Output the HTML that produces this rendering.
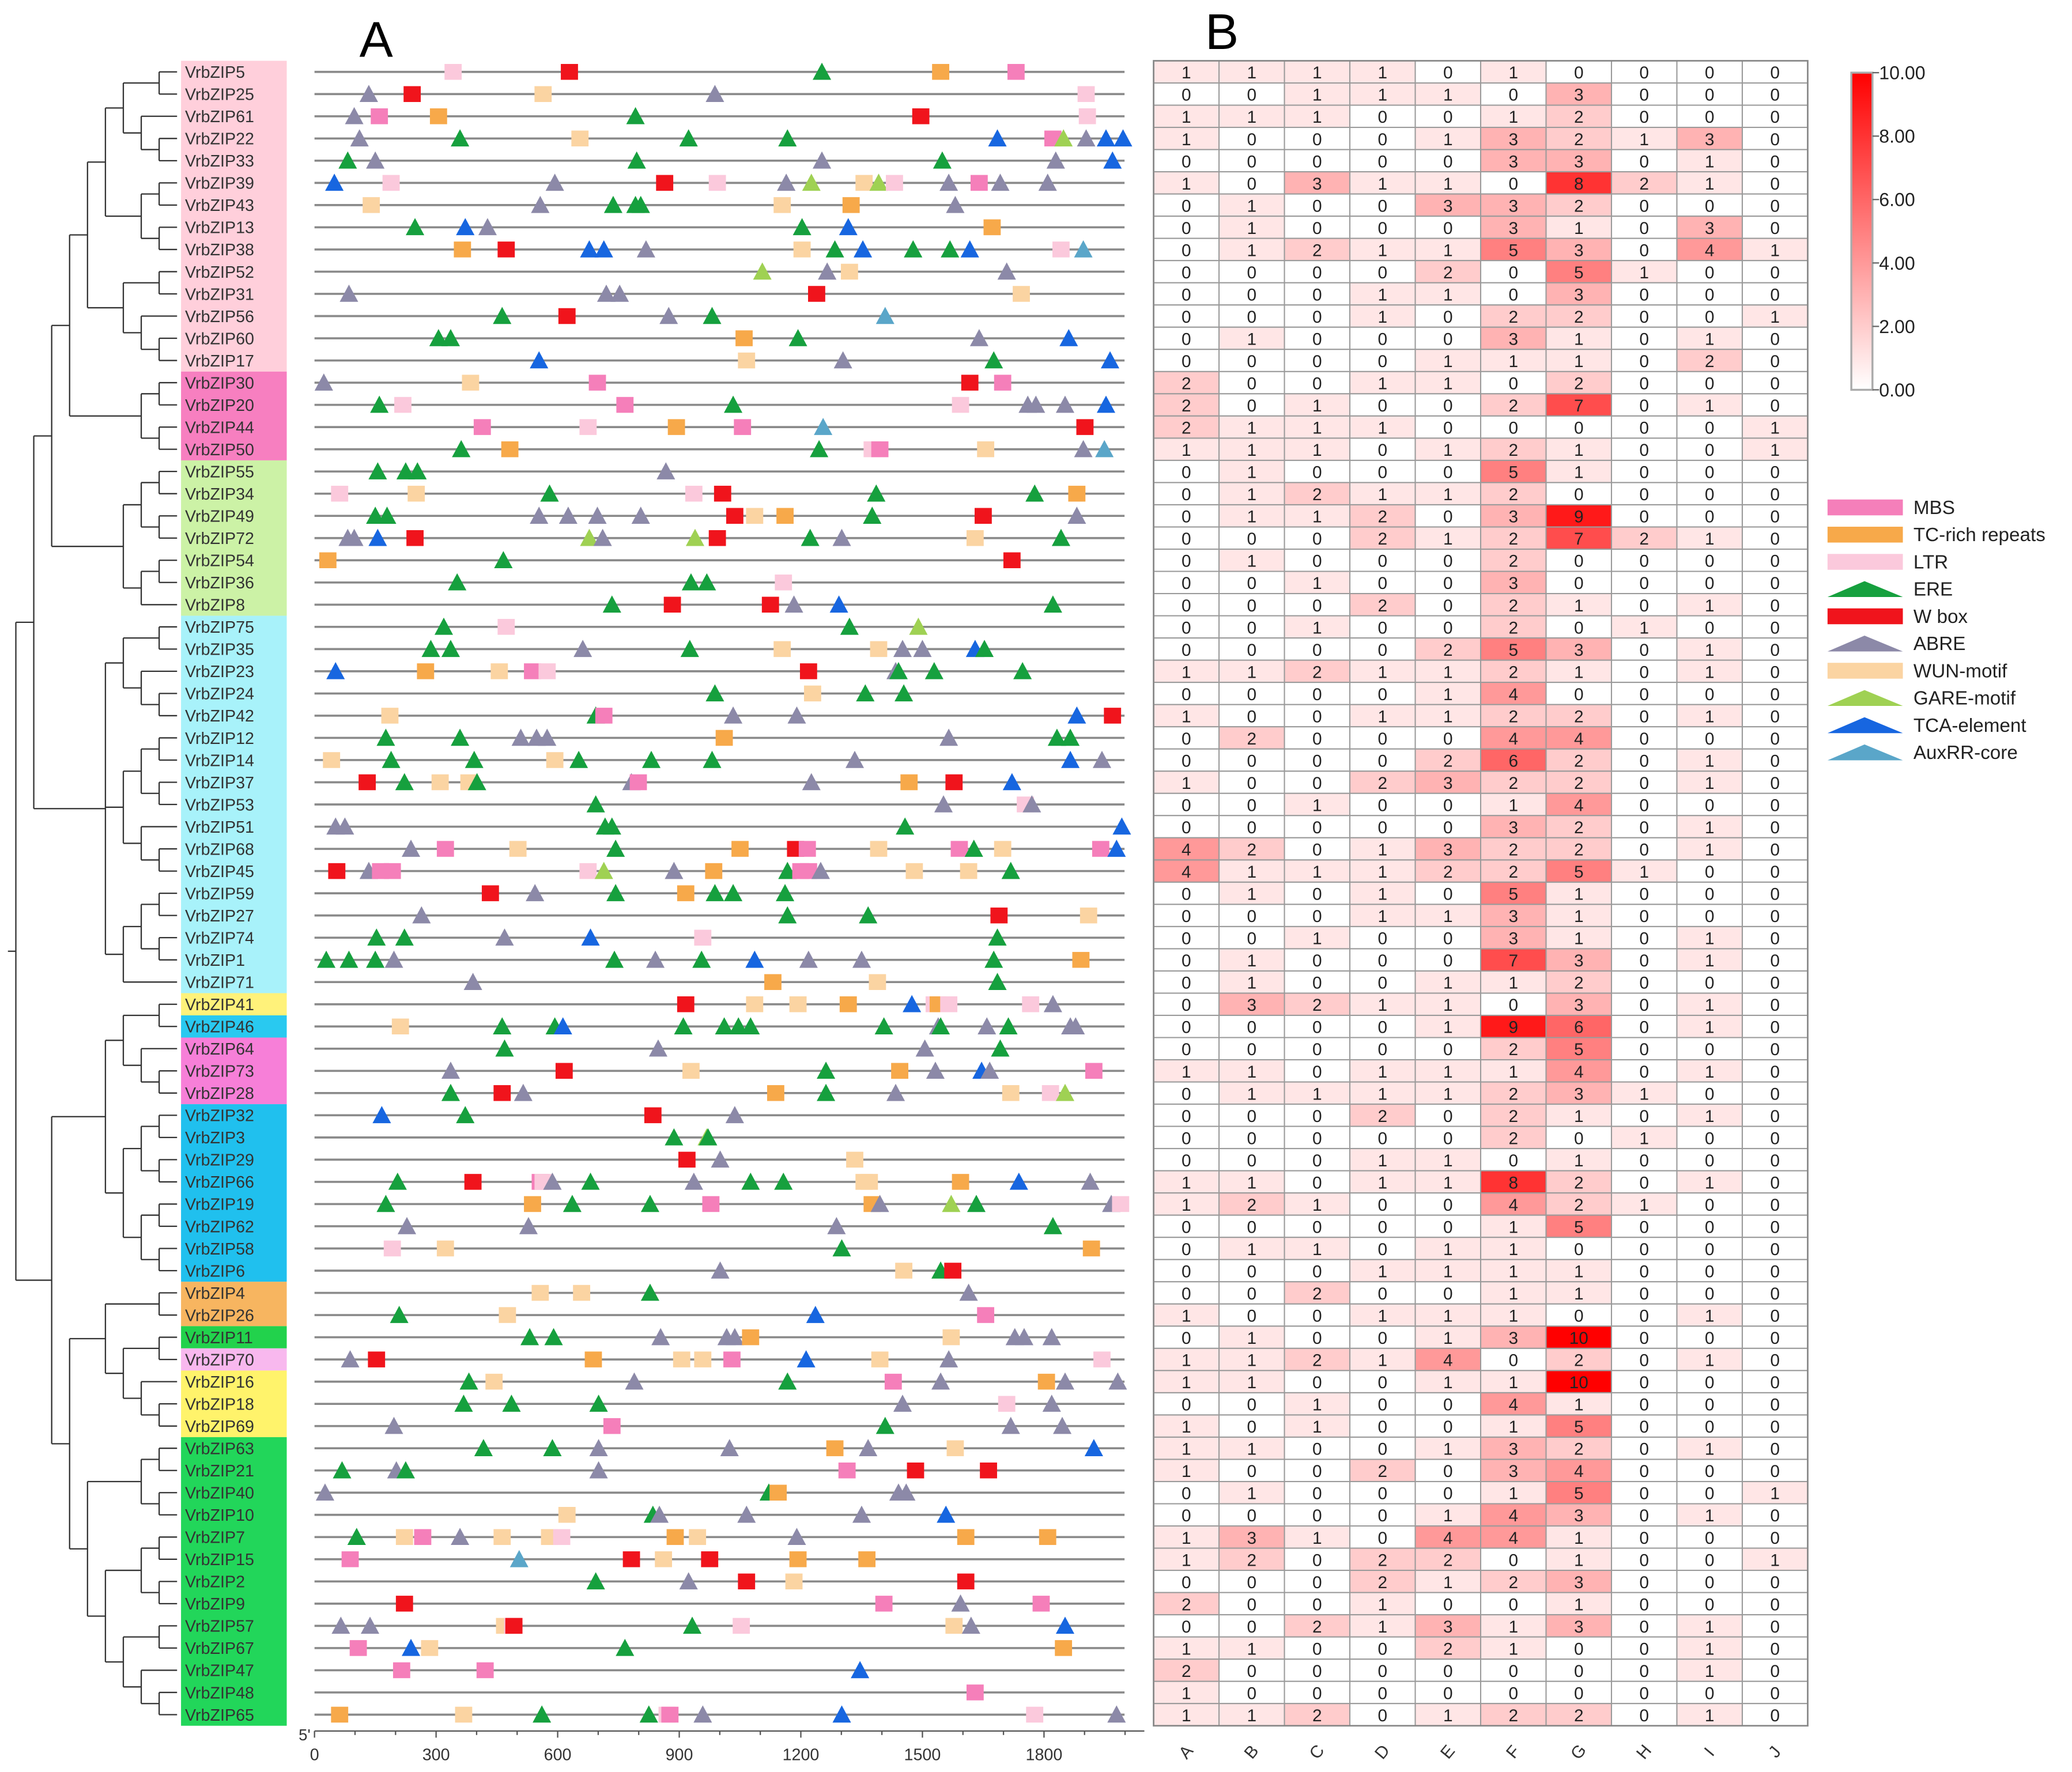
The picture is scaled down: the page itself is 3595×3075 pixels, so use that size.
<!DOCTYPE html>
<html><head><meta charset="utf-8"><style>
html,body{margin:0;padding:0;background:#fff;}
svg{display:block;}
text{font-family:"Liberation Sans",Arial,sans-serif;}
</style></head><body>
<svg id="fig" xmlns="http://www.w3.org/2000/svg" width="3595" height="3075" viewBox="0 0 1568 1341" preserveAspectRatio="none">
<rect x="0" y="0" width="1568" height="1341" fill="#fff"/>
<text x="272" y="43" font-size="38">A</text>
<text x="912" y="37" font-size="38">B</text>
<g id="tree"></g>
<g id="labels"></g>
<g id="motifs"></g>
<g id="axis"></g>
<g id="heat"></g>
<g id="cbar"></g>
<g id="legend"></g>
</svg>
<script>
const genes = ["VrbZIP5","VrbZIP25","VrbZIP61","VrbZIP22","VrbZIP33","VrbZIP39","VrbZIP43","VrbZIP13","VrbZIP38","VrbZIP52","VrbZIP31","VrbZIP56","VrbZIP60","VrbZIP17","VrbZIP30","VrbZIP20","VrbZIP44","VrbZIP50","VrbZIP55","VrbZIP34","VrbZIP49","VrbZIP72","VrbZIP54","VrbZIP36","VrbZIP8","VrbZIP75","VrbZIP35","VrbZIP23","VrbZIP24","VrbZIP42","VrbZIP12","VrbZIP14","VrbZIP37","VrbZIP53","VrbZIP51","VrbZIP68","VrbZIP45","VrbZIP59","VrbZIP27","VrbZIP74","VrbZIP1","VrbZIP71","VrbZIP41","VrbZIP46","VrbZIP64","VrbZIP73","VrbZIP28","VrbZIP32","VrbZIP3","VrbZIP29","VrbZIP66","VrbZIP19","VrbZIP62","VrbZIP58","VrbZIP6","VrbZIP4","VrbZIP26","VrbZIP11","VrbZIP70","VrbZIP16","VrbZIP18","VrbZIP69","VrbZIP63","VrbZIP21","VrbZIP40","VrbZIP10","VrbZIP7","VrbZIP15","VrbZIP2","VrbZIP9","VrbZIP57","VrbZIP67","VrbZIP47","VrbZIP48","VrbZIP65"];
const groupColors = ["#ffcfdb","#f77fc0","#ccf2a6","#a8f2fa","#fff27a","#29c9f0","#f77fd8","#20c0ee","#f7b560","#22d24c","#f8b8ee","#fff36b","#22d65a"];
const groupSizes = [14,4,7,17,1,1,3,8,2,1,1,3,13];
const heatCols = ["A","B","C","D","E","F","G","H","I","J"];
const heatValues = [
[1,1,1,1,0,1,0,0,0,0],[0,0,1,1,1,0,3,0,0,0],[1,1,1,0,0,1,2,0,0,0],[1,0,0,0,1,3,2,1,3,0],[0,0,0,0,0,3,3,0,1,0],
[1,0,3,1,1,0,8,2,1,0],[0,1,0,0,3,3,2,0,0,0],[0,1,0,0,0,3,1,0,3,0],[0,1,2,1,1,5,3,0,4,1],[0,0,0,0,2,0,5,1,0,0],
[0,0,0,1,1,0,3,0,0,0],[0,0,0,1,0,2,2,0,0,1],[0,1,0,0,0,3,1,0,1,0],[0,0,0,0,1,1,1,0,2,0],[2,0,0,1,1,0,2,0,0,0],
[2,0,1,0,0,2,7,0,1,0],[2,1,1,1,0,0,0,0,0,1],[1,1,1,0,1,2,1,0,0,1],[0,1,0,0,0,5,1,0,0,0],[0,1,2,1,1,2,0,0,0,0],
[0,1,1,2,0,3,9,0,0,0],[0,0,0,2,1,2,7,2,1,0],[0,1,0,0,0,2,0,0,0,0],[0,0,1,0,0,3,0,0,0,0],[0,0,0,2,0,2,1,0,1,0],
[0,0,1,0,0,2,0,1,0,0],[0,0,0,0,2,5,3,0,1,0],[1,1,2,1,1,2,1,0,1,0],[0,0,0,0,1,4,0,0,0,0],[1,0,0,1,1,2,2,0,1,0],
[0,2,0,0,0,4,4,0,0,0],[0,0,0,0,2,6,2,0,1,0],[1,0,0,2,3,2,2,0,1,0],[0,0,1,0,0,1,4,0,0,0],[0,0,0,0,0,3,2,0,1,0],
[4,2,0,1,3,2,2,0,1,0],[4,1,1,1,2,2,5,1,0,0],[0,1,0,1,0,5,1,0,0,0],[0,0,0,1,1,3,1,0,0,0],[0,0,1,0,0,3,1,0,1,0],
[0,1,0,0,0,7,3,0,1,0],[0,1,0,0,1,1,2,0,0,0],[0,3,2,1,1,0,3,0,1,0],[0,0,0,0,1,9,6,0,1,0],[0,0,0,0,0,2,5,0,0,0],
[1,1,0,1,1,1,4,0,1,0],[0,1,1,1,1,2,3,1,0,0],[0,0,0,2,0,2,1,0,1,0],[0,0,0,0,0,2,0,1,0,0],[0,0,0,1,1,0,1,0,0,0],
[1,1,0,1,1,8,2,0,1,0],[1,2,1,0,0,4,2,1,0,0],[0,0,0,0,0,1,5,0,0,0],[0,1,1,0,1,1,0,0,0,0],[0,0,0,1,1,1,1,0,0,0],
[0,0,2,0,0,1,1,0,0,0],[1,0,0,1,1,1,0,0,1,0],[0,1,0,0,1,3,10,0,0,0],[1,1,2,1,4,0,2,0,1,0],[1,1,0,0,1,1,10,0,0,0],
[0,0,1,0,0,4,1,0,0,0],[1,0,1,0,0,1,5,0,0,0],[1,1,0,0,1,3,2,0,1,0],[1,0,0,2,0,3,4,0,0,0],[0,1,0,0,0,1,5,0,0,1],
[0,0,0,0,1,4,3,0,1,0],[1,3,1,0,4,4,1,0,0,0],[1,2,0,2,2,0,1,0,0,1],[0,0,0,2,1,2,3,0,0,0],[2,0,0,1,0,0,1,0,0,0],
[0,0,2,1,3,1,3,0,1,0],[1,1,0,0,2,1,0,0,1,0],[2,0,0,0,0,0,0,0,1,0],[1,0,0,0,0,0,0,0,0,0],[1,1,2,0,1,2,2,0,1,0]];
const motifRows = [
"L342 W629 E1252 T1545 M1731","A134 W241 U564 A988 L1904","A98 M160 T306 E792 W1496 L1907",
"A111 E359 U655 E923 E1167 C1685 M1822 G1848 A1904 C1953 C1995","E82 A150 E795 A1252 E1549 A1829 C1969",
"C49 L189 A593 W864 L994 A1164 G1226 U1356 G1392 L1431 A1565 M1640 A1692 A1809",
"U140 A557 E737 E792 E805 U1154 T1324 A1581","E248 C372 A427 E1203 C1317 T1672",
"T365 W473 C678 C714 A818 U1203 E1284 C1353 E1477 E1568 C1617 L1842 X1897","G1105 A1265 U1320 A1708",
"A85 A720 A753 W1239 U1744","E463 W623 A874 E981 X1408","E306 E336 T1060 E1193 A1640 C1861",
"C554 U1066 A1304 E1676 C1963","A23 U385 M698 W1617 M1698","E160 L218 M766 E1033 L1594 A1760 A1780 A1852 C1953",
"M414 L675 T893 M1056 X1255 W1901","E362 T482 E1245 L1376 M1395 U1656 A1897 X1949","E156 E225 E254 A867",
"L62 U251 E580 L936 W1007 E1386 E1777 T1881","E150 E179 A554 A626 A698 A805 W1037 U1086 T1161 E1376 W1650 A1881",
"A82 A98 C156 W248 G678 A711 G939 W994 E1223 A1301 U1630 E1842","T33 E466 W1721","E352 E929 E968 L1157",
"E734 W883 W1125 A1183 C1294 E1822","E319 L473 E1320 G1490","E287 E336 A662 E926 U1154 U1392 A1451 A1500 C1630 E1653",
"C52 T274 U456 M538 L574 W1219 A1434 E1441 E1529 E1747","E988 U1229 E1359 E1454","U186 E694 M714 A1033 A1190 C1881 W1969",
"E176 E359 A509 A548 A574 T1011 A1565 E1832 E1865","U42 E189 E394 U593 E652 E831 E981 A1333 C1865 A1943",
"W130 E222 U310 U381 E401 A782 M799 A1226 T1467 W1578 C1721","E694 A1552 L1754 A1770","A52 A75 E717 E734 E1457 C1992",
"A238 M323 U502 E743 T1050 W1187 M1216 U1392 M1591 E1627 U1698 M1940 C1979",
"W55 A134 M163 M192 L675 G714 A887 T985 E1167 M1200 M1219 A1249 U1480 U1614 E1718",
"W434 A544 E743 T916 E988 E1033 E1161","A264 E1167 E1366 W1689 U1910","E153 E222 A469 C681 L958 E1685",
"E29 E85 E150 A196 E740 A841 E955 C1086 A1219 A1350 E1676 T1891","A391 T1131 U1389 E1685",
"W916 U1086 U1193 T1317 C1474 L1529 T1539 L1565 L1767 A1822",
"U212 E463 E593 C613 E910 E1011 E1046 E1076 E1405 A1539 E1545 A1659 E1712 A1865 A1878","E469 A848 A1506 E1692",
"A336 W616 U929 E1262 T1444 A1532 C1646 A1666 M1923","E336 W463 A515 T1138 E1262 A1434 U1718 L1816 G1852",
"C166 E372 W835 A1037","E887 G968 E971","W919 A1001 U1333",
"E205 W391 M557 L564 A587 E681 A936 E1076 E1157 U1356 U1369 T1594 C1738 A1914",
"E176 T538 E636 E828 M978 T1376 A1395 G1571 E1633 A1966 L1989","A228 A528 A1288 E1822","L192 U323 E1301 T1917",
"A1001 U1454 E1545 W1575","U557 U659 E828 A1614","E209 U476 C1236 M1656",
"E531 E590 A854 A1017 A1037 T1076 U1571 A1728 A1751 A1819","A88 W153 T688 U906 U958 M1030 C1213 U1395 A1565 L1943",
"E381 U443 A789 E1167 M1428 A1545 T1806 A1852 A1982","E368 E486 E701 A1451 L1708 A1819","A196 M734 E1408 A1718 A1845",
"E417 E587 A701 A1024 T1284 A1366 U1581 C1923","E68 A202 E225 A701 M1314 W1483 W1663","A26 E1121 T1144 A1441 A1460",
"U623 E835 A851 A1066 A1350 C1558","E104 U222 M267 A359 U463 U580 L610 T890 U945 A1190 T1607 T1809",
"M88 X505 W782 U861 W975 T1193 T1363","E694 A923 W1066 U1183 W1607","W222 M1405 A1594 M1793",
"A65 A137 U469 L489 W492 E932 L1053 U1578 A1620 C1852","M108 C238 U284 E766 T1848","M215 M421 C1346","M1630",
"T62 U368 E561 E825 L870 M877 A958 C1301 L1777 A1979"];
const tickValues = [0,300,600,900,1200,1500,1800];
const cbarTicks = ["10.00","8.00","6.00","4.00","2.00","0.00"];
const legendNames = ["MBS","TC-rich repeats","LTR","ERE","W box","ABRE","WUN-motif","GARE-motif","TCA-element","AuxRR-core"];
const legendCodes = ["M","T","L","E","W","A","U","G","C","X"];

const NS = "http://www.w3.org/2000/svg";
function mk(tag, attrs, parent){const e=document.createElementNS(NS,tag);for(const k in attrs)e.setAttribute(k,attrs[k]);parent.appendChild(e);return e;}
const ROW0 = 54.4, ROWH = 16.8;
const rowY = i => ROW0 + i*ROWH;
const xBp = bp => 238 + bp*0.3067;
const styles = {M:["rect","#f57fba"],T:["rect","#f7a94a"],L:["rect","#fbc9dc"],W:["rect","#f0141c"],U:["rect","#fbd4a2"],
 E:["tri","#16a03e"],A:["tri","#8c89a8"],G:["tri","#9fd153"],C:["tri","#1766e0"],X:["tri","#5aa6c9"]};
const shapeNames = {M:"mbs",T:"tc-rich",L:"ltr",W:"w-box",U:"wun",E:"ere",A:"abre",G:"gare",C:"tca",X:"auxrr"};

// labels background & text
const labG = document.getElementById('labels');
let cnt = 0;
for(let g=0; g<groupSizes.length; g++){
  const r = mk('rect',{x:137,y:ROW0-ROWH/2+cnt*ROWH,width:80,height:groupSizes[g]*ROWH,fill:groupColors[g]},labG);
  
  
  cnt += groupSizes[g];
}
genes.forEach((n,i)=>{
  const t = mk('text',{x:140,y:rowY(i)+4.5,'font-size':12.5,fill:'#333'},labG);
  t.textContent = n;
  
  
});

// tree
const T1 = [[[[[0,1],[2,[3,4]]],[[5,6],[7,8]]],[[9,10],[11,[12,13]]]],[[14,15],[16,17]]];
const T2 = [[[18,19],[20,21]],[[22,23],24]];
const T3 = [[[25,26],[27,[28,29]]],[[[30,31],[32,33]],[34,[35,36]]],[[[37,38],[39,40]],41]];
const T4 = [[42,43],[44,[45,46]]];
const T5 = [[[47,48],[49,50]],[[51,52],[53,54]]];
const T6 = [55,56];
const T7 = [[57,58],[59,[60,61]]];
const T8 = [[[62,63],[64,65]],[[[66,67],[68,69]],[[70,71],[72,[73,74]]]]];
const root = [[[T1,T2],T3],[[T4,T5],[[T6,T7],T8]]];
const trG = document.getElementById('tree');
function hgt(n){return typeof n==='number'?0:1+Math.max(...n.map(hgt));}
const H = hgt(root), STEP = 122/H;
function draw(n){
  if(typeof n==='number') return {x:134,y:rowY(n)};
  const ch = n.map(draw);
  const x = 134 - hgt(n)*STEP;
  const ys = ch.map(c=>c.y);
  const y = (Math.min(...ys)+Math.max(...ys))/2;
  mk('line',{x1:x,x2:x,y1:Math.min(...ys),y2:Math.max(...ys),stroke:'#333','stroke-width':1},trG);
  ch.forEach(c=>mk('line',{x1:x,x2:c.x,y1:c.y,y2:c.y,stroke:'#333','stroke-width':1},trG));
  return {x,y};
}
const rt = draw(root);
mk('line',{x1:6,x2:rt.x,y1:rt.y,y2:rt.y,stroke:'#333','stroke-width':1},trG);

// motif tracks
const mG = document.getElementById('motifs');
motifRows.forEach((s,i)=>{
  const y = rowY(i);
  const ln = mk('line',{x1:238,x2:851,y1:y,y2:y,stroke:'#8a8a8a','stroke-width':1.6},mG);
  
  
  s.split(' ').filter(t=>t.length>1).forEach(tok=>{
    const c = tok[0], bp = +tok.slice(1), x = xBp(bp), st = styles[c];
    if(!st) return;
    let e;
    if(st[0]==='rect') e = mk('rect',{x:x-6.5,y:y-6,width:13,height:12,fill:st[1]},mG);
    else e = mk('polygon',{points:`${x-7},${y+6} ${x+7},${y+6} ${x},${y-7}`,fill:st[1]},mG);
    
    
  });
});

// axis
const aG = document.getElementById('axis');
mk('line',{x1:238,x2:866,y1:1310,y2:1310,stroke:'#555','stroke-width':1},aG);
tickValues.forEach(v=>{
  const x = xBp(v);
  mk('line',{x1:x,x2:x,y1:1310,y2:1315,stroke:'#555'},aG);
  const t = mk('text',{x:x,y:1332,'font-size':12.5,'text-anchor':'middle',fill:'#333'},aG);
  t.textContent = v;
  
  
});
for(let v=100; v<2050; v+=100){ if(v%300){const x=xBp(v); mk('line',{x1:x,x2:x,y1:1310,y2:1313,stroke:'#555'},aG);} }
const t5 = mk('text',{x:226,y:1317,'font-size':12,fill:'#333'},aG); t5.textContent="5'";

// heatmap
const hG = document.getElementById('heat');
const HX = 873, CW = 49.5;
const color = v => { const f = Math.min(v,10)/10; const gb = Math.round(255*(1-f)); return `rgb(255,${gb},${gb})`; };
heatValues.forEach((row,i)=>{
  row.forEach((v,j)=>{
    const r = mk('rect',{x:HX+j*CW,y:rowY(i)-ROWH/2,width:CW,height:ROWH,fill:color(v),stroke:'#9a9a9a','stroke-width':0.9},hG);
    
    
    const t = mk('text',{x:HX+j*CW+CW/2,y:rowY(i)+5,'font-size':13,'text-anchor':'middle',fill:'#222'},hG);
    t.textContent = v;
  });
});
mk('rect',{x:HX,y:ROW0-ROWH/2,width:CW*10,height:ROWH*75,fill:'none',stroke:'#888','stroke-width':1.2},hG);
heatCols.forEach((c,j)=>{
  const x = HX+j*CW+CW/2, y=1330;
  const t = mk('text',{x:x,y:y,'font-size':13,'text-anchor':'middle',fill:'#333',transform:`rotate(-50 ${x} ${y-4})`},hG);
  t.textContent = c;
  
  
});

// colorbar
const cG = document.getElementById('cbar');
const defs = mk('defs',{},cG);
const lg = mk('linearGradient',{id:'cg',x1:0,y1:0,x2:0,y2:1},defs);
mk('stop',{offset:0,'stop-color':'#ff0000'},lg);
mk('stop',{offset:1,'stop-color':'#ffffff'},lg);
mk('rect',{x:1401,y:55,width:16,height:240,fill:'url(#cg)',stroke:'#aaa','stroke-width':1.5},cG);
cbarTicks.forEach((s,k)=>{
  const y = 55+k*48;
  mk('line',{x1:1417,x2:1422,y1:y,y2:y,stroke:'#666'},cG);
  const t = mk('text',{x:1422,y:y+5,'font-size':14,fill:'#222'},cG);
  t.textContent = s;
  
  
});

// legend
const lG = document.getElementById('legend');
legendNames.forEach((n,k)=>{
  const y = 384 + k*20.6, c = legendCodes[k], st = styles[c];
  let e;
  if(st[0]==='rect') e = mk('rect',{x:1383,y:y-6,width:57,height:12,fill:st[1]},lG);
  else e = mk('polygon',{points:`1383,${y+6} 1440,${y+6} 1411,${y-6}`,fill:st[1]},lG);
  
  
  const t = mk('text',{x:1448,y:y+5,'font-size':14.5,fill:'#222'},lG);
  t.textContent = n;
  
  
});
</script>
</body></html>
